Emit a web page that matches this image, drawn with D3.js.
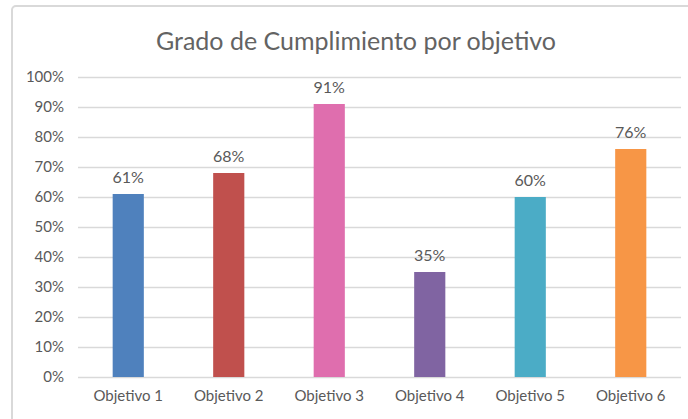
<!DOCTYPE html>
<html>
<head>
<meta charset="utf-8">
<script src="https://cdn.jsdelivr.net/npm/d3@7"></script>
<style>
  body { margin: 0; background: #fff; }
  text { font-family: Lato, "Open Sans", sans-serif; fill: #595959; }
</style>
</head>
<body>
<div id="chart"></div>
<script>
var categories = ["Objetivo 1", "Objetivo 2", "Objetivo 3", "Objetivo 4", "Objetivo 5", "Objetivo 6"];
var values = [61, 68, 91, 35, 60, 76];
var colors = ["#4f81bd", "#c0504d", "#df6eae", "#8064a2", "#4bacc6", "#f79646"];
var yTicks = [0, 10, 20, 30, 40, 50, 60, 70, 80, 90, 100];
var title = "Grado de Cumplimiento por objetivo";

var W = 688, H = 419;
var margin = {top: 77, right: 7, bottom: 42, left: 78};
var width = W - margin.left - margin.right;
var height = H - margin.top - margin.bottom;

var svg = d3.select("#chart").append("svg")
    .attr("width", W)
    .attr("height", H);

// chart frame
svg.append("rect")
    .attr("x", 12)
    .attr("y", 6)
    .attr("width", W)
    .attr("height", H)
    .attr("rx", 4)
    .attr("fill", "#fff")
    .attr("stroke", "#d9d9d9")
    .attr("stroke-width", 2);

svg.append("text")
    .attr("x", 356)
    .attr("y", 50)
    .attr("text-anchor", "middle")
    .style("font-size", "25px")
    .style("fill", "#636363")
    .text(title);

var g = svg.append("g")
    .attr("transform", "translate(" + margin.left + "," + margin.top + ")");

var x = d3.scaleBand().domain(categories).range([0, width]).paddingInner(0.69).paddingOuter(0.345);
var y = d3.scaleLinear().domain([0, 100]).range([height, 0]);

// gridlines
g.selectAll(".grid")
    .data(yTicks)
    .enter().append("line")
    .attr("class", "grid")
    .attr("x1", 0)
    .attr("x2", width)
    .attr("y1", function(d) { return Math.round(y(d)) + 0.5; })
    .attr("y2", function(d) { return Math.round(y(d)) + 0.5; })
    .attr("stroke", "#d9d9d9")
    .attr("stroke-width", 1.3);

var yAxis = g.append("g")
    .call(d3.axisLeft(y).tickValues(yTicks).tickSize(0).tickPadding(14).tickFormat(function(d) { return d + "%"; }));
yAxis.select(".domain").remove();
yAxis.selectAll("text").style("font-size", "15px").attr("fill", "#595959");

var xAxis = g.append("g")
    .attr("transform", "translate(0," + height + ")")
    .call(d3.axisBottom(x).tickSize(0).tickPadding(13));
xAxis.select(".domain").remove();
xAxis.selectAll("text").style("font-size", "15px").attr("fill", "#595959");

g.selectAll(".bar")
    .data(values)
    .enter().append("rect")
    .attr("class", "bar")
    .attr("x", function(d, i) { return x(categories[i]); })
    .attr("y", function(d) { return y(d); })
    .attr("width", x.bandwidth())
    .attr("height", function(d) { return height - y(d); })
    .attr("fill", function(d, i) { return colors[i]; });

g.selectAll(".label")
    .data(values)
    .enter().append("text")
    .attr("class", "label")
    .attr("x", function(d, i) { return x(categories[i]) + x.bandwidth() / 2; })
    .attr("y", function(d) { return y(d) - 11; })
    .attr("text-anchor", "middle")
    .style("font-size", "16px")
    .text(function(d) { return d + "%"; });
</script>
</body>
</html>
